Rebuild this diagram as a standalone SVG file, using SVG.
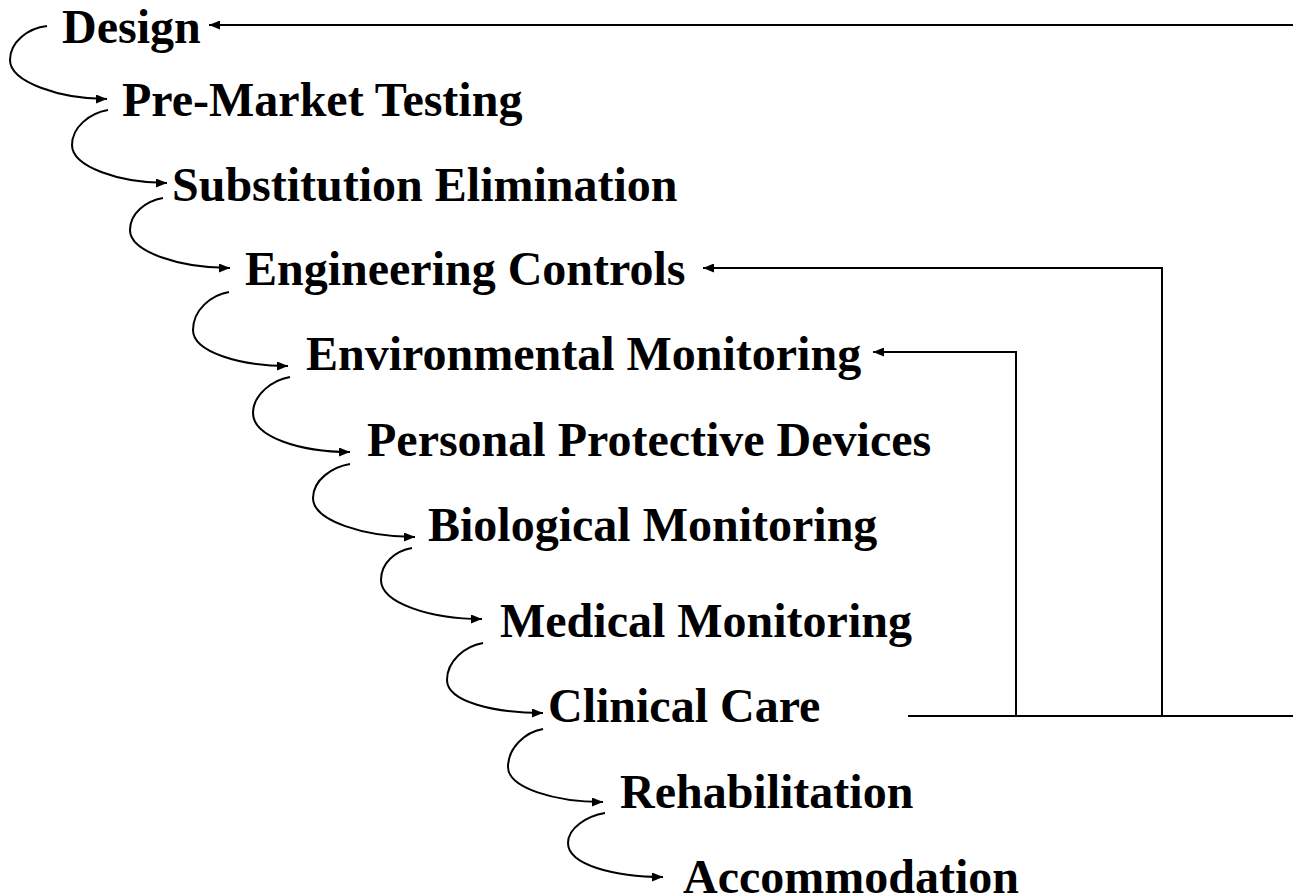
<svg xmlns="http://www.w3.org/2000/svg" width="1293" height="895" viewBox="0 0 1293 895">
<style>
.t{font-family:"Liberation Serif","Times New Roman",serif;font-weight:bold;font-size:48px;fill:#000}
.c{fill:none;stroke:#000;stroke-width:2}
</style>
<defs>
<marker id="ah" markerUnits="userSpaceOnUse" markerWidth="11" markerHeight="9" refX="11" refY="4.5" orient="auto">
<path d="M0,0 L11,4.5 L0,9 z" fill="#000"/>
</marker>
</defs>
<rect width="1293" height="895" fill="#fff"/>
<g id="connectors">
<path class="c" marker-end="url(#ah)" d="M47,26 C28,28 10,42 10,60 C10,82 60,99 107,99"/>
<path class="c" marker-end="url(#ah)" d="M108,110 C90,113 72,127 72,145 C72,167 120,183 167,183"/>
<path class="c" marker-end="url(#ah)" d="M163,198 C146,201 130,213 130,230 C130,252 180,268 230,268"/>
<path class="c" marker-end="url(#ah)" d="M229,292 C211,295 193,310 193,330 C193,352 240,366 288,366"/>
<path class="c" marker-end="url(#ah)" d="M290,377 C272,380 253,395 253,413 C253,437 300,452 350,452"/>
<path class="c" marker-end="url(#ah)" d="M350,464 C332,467 313,480 313,498 C313,521 365,537 415,537"/>
<path class="c" marker-end="url(#ah)" d="M412,548 C395,551 381,563 381,580 C381,603 430,619 482,619"/>
<path class="c" marker-end="url(#ah)" d="M483,643 C465,646 447,661 447,680 C447,702 495,713 543,713"/>
<path class="c" marker-end="url(#ah)" d="M543,729 C525,732 508,748 508,767 C508,788 555,802 603,802"/>
<path class="c" marker-end="url(#ah)" d="M605,813 C587,816 568,828 568,843 C568,865 615,877 663,877"/>
<path class="c" marker-end="url(#ah)" d="M1293,25 L209,25"/>
<path class="c" marker-end="url(#ah)" d="M1162,716 L1162,268 L703,268"/>
<path class="c" marker-end="url(#ah)" d="M1016,716 L1016,352 L873,352"/>
<path class="c" d="M908,716 L1293,716"/>
</g>
<g id="n1"><text class="t" x="62" y="43">Design</text></g>
<g id="n2"><text class="t" x="122" y="116">Pre-Market Testing</text></g>
<g id="n3"><text class="t" x="172" y="201">Substitution Elimination</text></g>
<g id="n4"><text class="t" x="245" y="285">Engineering Controls</text></g>
<g id="n5"><text class="t" x="306" y="370">Environmental Monitoring</text></g>
<g id="n6"><text class="t" x="367" y="456">Personal Protective Devices</text></g>
<g id="n7"><text class="t" x="428" y="541">Biological Monitoring</text></g>
<g id="n8"><text class="t" x="500" y="637">Medical Monitoring</text></g>
<g id="n9"><text class="t" x="548" y="722">Clinical Care</text></g>
<g id="n10"><text class="t" x="620" y="808">Rehabilitation</text></g>
<g id="n11"><text class="t" x="683" y="893">Accommodation</text></g>
</svg>
